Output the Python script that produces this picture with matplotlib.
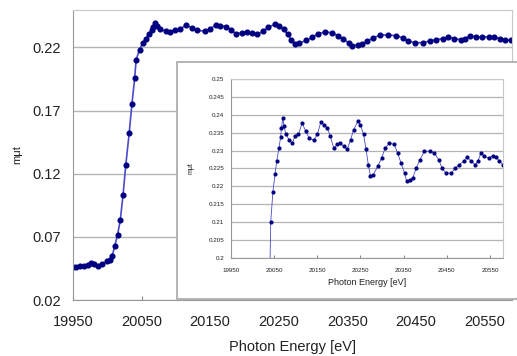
import numpy as np
import matplotlib
matplotlib.use("Agg")
import matplotlib.pyplot as plt
from matplotlib.patches import Rectangle

plt.rcParams['font.family'] = ['Liberation Sans', 'DejaVu Sans']

# XAFS spectrum: photon energy [eV] vs m*mu*t
energy = [19950, 19954, 19960, 19966, 19972, 19976, 19981, 19986, 19992, 19999,
          20004, 20007, 20011, 20015, 20019, 20023, 20027, 20032, 20036, 20040,
          20042, 20047, 20052, 20056, 20061, 20065, 20067, 20070, 20073, 20077,
          20085, 20092, 20098, 20106, 20115, 20123, 20131, 20142, 20150, 20158,
          20165, 20173, 20180, 20188, 20196, 20203, 20211, 20219, 20227, 20234,
          20244, 20250, 20257, 20263, 20268, 20273, 20280, 20290, 20299, 20307,
          20317, 20328, 20336, 20344, 20352, 20357, 20365, 20371, 20379, 20388,
          20398, 20410, 20421, 20431, 20439, 20448, 20460, 20470, 20479, 20489,
          20497, 20506, 20516, 20522, 20529, 20537, 20547, 20556, 20564, 20572,
          20580, 20588]
mut = [0.0462, 0.0465, 0.0470, 0.0473, 0.0478, 0.0495, 0.0485, 0.0470, 0.0485, 0.0505,
       0.0520, 0.0545, 0.0630, 0.0716, 0.0835, 0.1033, 0.1270, 0.1525, 0.1755, 0.1960,
       0.2100, 0.2183, 0.2235, 0.2270, 0.2307, 0.2338, 0.2363, 0.2391, 0.2368, 0.2345,
       0.2330, 0.2320, 0.2340, 0.2345, 0.2377, 0.2354, 0.2335, 0.2329, 0.2345, 0.2379,
       0.2372, 0.2363, 0.2340, 0.2307, 0.2317, 0.2321, 0.2312, 0.2303, 0.2330, 0.2358,
       0.2382, 0.2372, 0.2345, 0.2303, 0.2261, 0.2230, 0.2233, 0.2256, 0.2279, 0.2307,
       0.2321, 0.2317, 0.2293, 0.2265, 0.2237, 0.2214, 0.2219, 0.2223, 0.2251, 0.2275,
       0.2298, 0.2298, 0.2293, 0.2275, 0.2251, 0.2237, 0.2237, 0.2251, 0.2261, 0.2270,
       0.2282, 0.2270, 0.2261, 0.2270, 0.2293, 0.2284, 0.2279, 0.2286, 0.2282, 0.2270,
       0.2261, 0.2255]

x_ticks = [19950, 20050, 20150, 20250, 20350, 20450, 20550]
main_yticks = [0.02, 0.07, 0.12, 0.17, 0.22]
main_ylabels = ['0.02', '0.07', '0.12', '0.17', '0.22']
inset_yticks = [0.2, 0.205, 0.21, 0.215, 0.22, 0.225, 0.23, 0.235, 0.24, 0.245, 0.25]
inset_ylabels = ['0.2', '0.205', '0.21', '0.215', '0.22', '0.225', '0.23', '0.235',
                 '0.24', '0.245', '0.25']

line_col = '#000080'
thin_col = '#4a4ac8'
grid_col = '#b4b4b4'
txt_col = '#222222'

fig = plt.figure(figsize=(5.17, 3.56), dpi=100)

# main plot
ax = fig.add_axes([0.1412, 0.1573, 0.849, 0.816])
ax.plot(energy, mut, color=thin_col, lw=1.2)
ax.plot(energy, mut, ls='none', marker='o', ms=3.4, mec=line_col, mfc=line_col)
ax.set_xlim(19950, 20590)
ax.set_ylim(0.02, 0.25)
ax.set_xticks(x_ticks)
ax.set_xticklabels([str(v) for v in x_ticks], fontsize=10.5, color=txt_col)
ax.set_yticks(main_yticks)
ax.set_yticklabels(main_ylabels, fontsize=10.5, color=txt_col)
ax.tick_params(axis='x', direction='in', length=3, color='#888888', pad=11)
ax.tick_params(axis='y', length=0, pad=9)
ax.yaxis.grid(True, color=grid_col, lw=1.0)
ax.set_axisbelow(True)
for side in ['top', 'right']:
    ax.spines[side].set_color('#c8c8c8')
for side in ['left', 'bottom']:
    ax.spines[side].set_color('#999999')
ax.set_xlabel('Photon Energy [eV]', fontsize=10.5, color=txt_col, labelpad=8)
ax.set_ylabel('mμt', fontsize=8, color=txt_col, labelpad=7)

# white frame behind the inset chart
frame = Rectangle((0.3424, 0.160), 0.72, 0.666, transform=fig.transFigure,
                  facecolor='white', edgecolor='#a8a8a8', lw=1.2, zorder=1)
fig.patches.append(frame)

# inset: post-edge region
ins = fig.add_axes([0.4468, 0.2753, 0.526, 0.503])
ins.set_zorder(2)
ins.plot(energy, mut, color=thin_col, lw=0.6)
ins.plot(energy, mut, ls='none', marker='o', ms=2.0, mec=line_col, mfc=line_col)
ins.set_xlim(19950, 20580)
ins.set_ylim(0.2, 0.25)
ins.set_xticks(x_ticks)
ins.set_xticklabels([str(v) for v in x_ticks], fontsize=4.5, color=txt_col)
ins.set_yticks(inset_yticks)
ins.set_yticklabels(inset_ylabels, fontsize=4.5, color=txt_col)
ins.tick_params(axis='x', direction='in', length=2, color='#888888', pad=7)
ins.tick_params(axis='y', length=0, pad=5)
ins.yaxis.grid(True, color=grid_col, lw=0.9)
ins.set_axisbelow(True)
for side in ['top', 'right']:
    ins.spines[side].set_color('#c8c8c8')
for side in ['left', 'bottom']:
    ins.spines[side].set_color('#999999')
ins.set_xlabel('Photon Energy [eV]', fontsize=6.5, color=txt_col, labelpad=4)
ins.set_ylabel('mμt', fontsize=5, color=txt_col, labelpad=10)

fig.savefig('out.png', dpi=100)
